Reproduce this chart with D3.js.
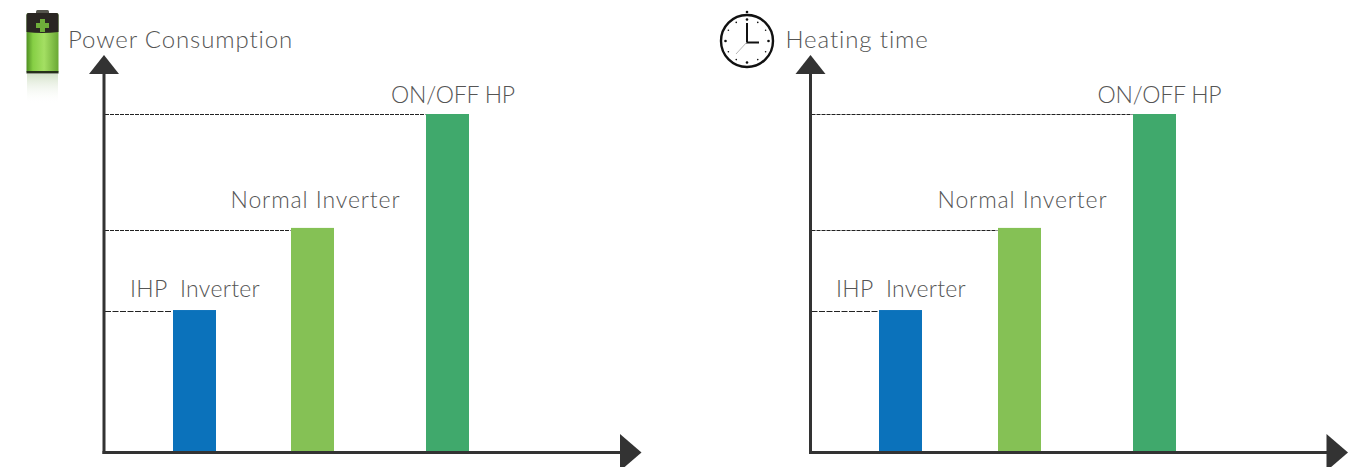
<!DOCTYPE html>
<html>
<head>
<meta charset="utf-8">
<script src="https://d3js.org/d3.v7.min.js"></script>
<style>
  html, body { margin: 0; padding: 0; background: #fff; overflow: hidden; }
  text { font-family: Lato, "Open Sans", sans-serif; font-weight: 300; fill: #555; }
</style>
</head>
<body>
<script>
const categories = ["IHP  Inverter", "Normal Inverter", "ON/OFF HP"];
const powerValues = [42, 66.3, 100];
const heatingValues = [42, 66.3, 100];
const panelTitles = ["Power Consumption", "Heating time"];

const svg = d3.select("body").append("svg")
  .attr("width", 1367)
  .attr("height", 467);

const barColor = d3.scaleOrdinal().domain(categories).range(["#0b72bb", "#85c155", "#40a96c"]);
const labelBase = d3.scaleOrdinal().domain(categories).range([297, 208, 103]);
const labelSpacing = d3.scaleOrdinal().domain(categories).range([0.3, 0.9, -0.25]);
const guideY = d3.scaleOrdinal().domain(categories).range([311.5, 230.5, 114.5]);
const guideDash = d3.scaleOrdinal().domain(categories).range(["6 1.5", "4 1", "4 1"]);

const y = d3.scaleLinear().domain([0, 100]).range([452, 114]);

const defs = svg.append("defs");
const battery = defs.append("linearGradient").attr("id", "batteryGreen").attr("x1", 0).attr("x2", 1);
battery.append("stop").attr("offset", 0).attr("stop-color", "#4f8f22");
battery.append("stop").attr("offset", 0.2).attr("stop-color", "#86cf45");
battery.append("stop").attr("offset", 0.55).attr("stop-color", "#a4df63");
battery.append("stop").attr("offset", 1).attr("stop-color", "#6aa834");
const glow = defs.append("linearGradient").attr("id", "batteryGlow").attr("x1", 0).attr("x2", 0).attr("y1", 0).attr("y2", 1);
glow.append("stop").attr("offset", 0).attr("stop-color", "#c3d6b4").attr("stop-opacity", 0.7);
glow.append("stop").attr("offset", 1).attr("stop-color", "#ffffff").attr("stop-opacity", 0);

function drawPanel(originX, title, titleX, values, barOffsets, labelOffsets) {
  const g = svg.append("g").attr("transform", `translate(${originX},0)`);
  const rows = categories.map((c, i) => ({ name: c, value: values[i] }));
  const barLeft = d3.scaleOrdinal().domain(categories).range(barOffsets);
  const labelCentre = d3.scaleOrdinal().domain(categories).range(labelOffsets);

  g.selectAll(".guide").data(rows).join("line")
    .attr("class", "guide")
    .attr("x1", 1)
    .attr("x2", (d) => barLeft(d.name) - 0.5)
    .attr("y1", (d) => guideY(d.name))
    .attr("y2", (d) => guideY(d.name))
    .attr("stroke", "#222")
    .attr("stroke-width", 1)
    .attr("stroke-dasharray", (d) => guideDash(d.name));

  g.selectAll(".bar").data(rows).join("rect")
    .attr("class", "bar")
    .attr("x", (d) => barLeft(d.name))
    .attr("y", (d) => y(d.value))
    .attr("width", 43)
    .attr("height", (d) => y(0) - y(d.value))
    .attr("fill", (d) => barColor(d.name));

  g.selectAll(".label").data(rows).join("text")
    .attr("class", "label")
    .attr("x", (d) => labelCentre(d.name))
    .attr("y", (d) => labelBase(d.name))
    .attr("text-anchor", "middle")
    .attr("font-size", 23)
    .attr("letter-spacing", (d) => labelSpacing(d.name))
    .style("white-space", "pre")
    .text((d) => d.name);

  g.append("text")
    .attr("x", titleX)
    .attr("y", 48)
    .attr("font-size", 24)
    .attr("letter-spacing", 0.88)
    .text(title);

  // axes
  g.append("line").attr("x1", 0).attr("x2", 0).attr("y1", 70).attr("y2", 454)
    .attr("stroke", "#333").attr("stroke-width", 3);
  g.append("line").attr("x1", -1.5).attr("x2", 520).attr("y1", 452.5).attr("y2", 452.5)
    .attr("stroke", "#333").attr("stroke-width", 3);
  g.append("path").attr("d", "M0,55L15,74L-15,74Z").attr("fill", "#333");
  g.append("path").attr("d", "M516,434L537.5,452.5L516,471Z").attr("fill", "#333");
  return g;
}

drawPanel(104, panelTitles[0], -36, powerValues, [69, 187, 322], [91, 211.5, 349]);
drawPanel(810.5, panelTitles[1], -25, heatingValues, [68.5, 187.5, 322.5], [90.5, 212, 349]);

// battery icon
const bat = svg.append("g");
bat.append("rect").attr("x", 27).attr("y", 74).attr("width", 31).attr("height", 30).attr("fill", "url(#batteryGlow)");
bat.append("rect").attr("x", 36).attr("y", 10).attr("width", 13).attr("height", 4).attr("rx", 1.5).attr("fill", "#55554d");
bat.append("rect").attr("x", 26.5).attr("y", 13).attr("width", 32).attr("height", 60).attr("rx", 2).attr("fill", "url(#batteryGreen)");
bat.append("path").attr("d", "M26.5,32V15Q26.5,13 28.5,13H56.5Q58.5,13 58.5,15V32Q42,34 26.5,32Z").attr("fill", "#2a2622");
bat.append("rect").attr("x", 26.5).attr("y", 71).attr("width", 32).attr("height", 2.5).attr("fill", "#26301a");
bat.append("path").attr("d", "M40,19h5v4h4v5h-4v4h-5v-4h-4v-5h4z").attr("fill", "#6fae3a");

// clock icon
const clock = svg.append("g").attr("transform", "translate(747,41)");
clock.append("circle").attr("r", 26).attr("fill", "#fff").attr("stroke", "#111").attr("stroke-width", 2.4);
clock.selectAll(".tick").data(d3.range(12)).join("circle")
  .attr("class", "tick")
  .attr("cx", (d) => 21.5 * Math.sin(d * Math.PI / 6))
  .attr("cy", (d) => -21.5 * Math.cos(d * Math.PI / 6))
  .attr("r", (d) => (d % 3 === 0 ? 1.3 : 0.8))
  .attr("fill", "#111");
clock.append("circle").attr("cx", 0).attr("cy", -29).attr("r", 1.3).attr("fill", "#111");
clock.append("path").attr("d", "M0,-18V1.5H12").attr("fill", "none").attr("stroke", "#111").attr("stroke-width", 2);
clock.append("line").attr("x1", 0).attr("y1", 1).attr("x2", -11).attr("y2", 13).attr("stroke", "#999").attr("stroke-width", 0.7);
</script>
</body>
</html>
